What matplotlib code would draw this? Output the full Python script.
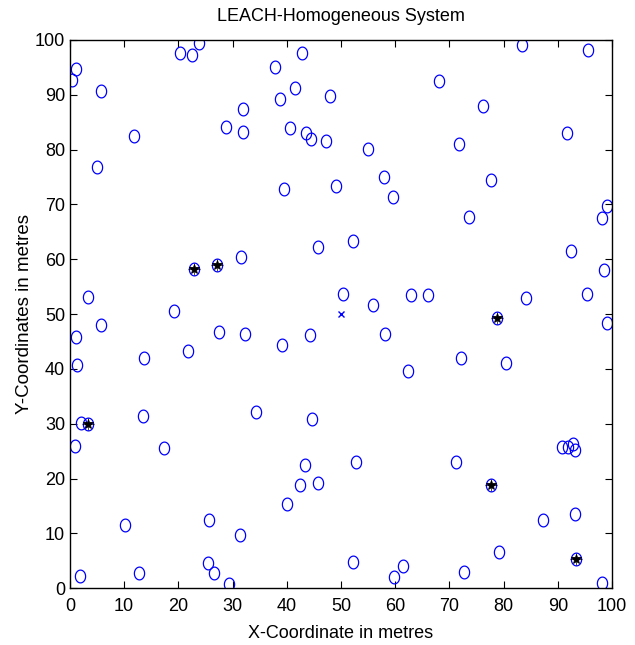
import numpy as np
import matplotlib
matplotlib.use('Agg')
import matplotlib.pyplot as plt
from matplotlib.path import Path

plt.rcParams['font.family'] = ['Liberation Sans', 'DejaVu Sans']

# node positions
node_x = [1.1, 0.4, 5.7, 11.9, 5.0, 20.4, 22.5, 23.9, 28.8, 31.9, 32.0, 37.8, 42.9, 41.5,
          38.7, 40.6, 43.5, 44.5, 47.2, 47.9, 39.4, 49.0, 83.4, 95.6, 68.1, 76.1, 91.7,
          71.7, 55.0, 58.0, 59.6, 77.7, 73.6, 99.0, 98.1, 22.9, 27.1, 31.6, 45.8, 3.4,
          5.7, 1.1, 1.3, 13.7, 19.2, 21.8, 27.5, 32.3, 39.2, 44.2, 50.4, 52.2, 92.4,
          98.5, 95.3, 84.1, 63.0, 66.0, 55.9, 78.8, 99.0, 58.2, 72.2, 80.5, 62.4, 2.0,
          3.4, 0.9, 13.5, 17.4, 34.4, 44.6, 43.3, 42.4, 45.8, 40.1, 10.1, 25.6, 31.4,
          25.4, 26.6, 29.3, 12.8, 1.8, 52.7, 71.2, 77.7, 90.8, 91.9, 92.7, 93.2, 93.1,
          87.3, 79.2, 93.4, 52.2, 61.4, 59.8, 72.6, 98.2]
node_y = [94.7, 92.7, 90.7, 82.4, 76.9, 97.6, 97.3, 99.4, 84.2, 87.4, 83.3, 95.0, 97.7, 91.2,
          89.2, 83.9, 83.1, 81.9, 81.6, 89.8, 72.8, 73.4, 99.1, 98.2, 92.6, 88.0, 83.0,
          81.0, 80.1, 75.1, 71.3, 74.5, 67.8, 69.8, 67.6, 58.2, 59.0, 60.5, 62.3, 53.1,
          48.1, 45.8, 40.8, 42.0, 50.5, 43.2, 46.7, 46.4, 44.3, 46.1, 53.7, 63.4, 61.6,
          58.1, 53.7, 52.9, 53.4, 53.4, 51.6, 49.3, 48.4, 46.4, 42.0, 41.1, 39.7, 30.2,
          30.0, 25.9, 31.4, 25.6, 32.2, 30.8, 22.4, 18.9, 19.2, 15.3, 11.6, 12.4, 9.8,
          4.6, 2.8, 0.8, 2.8, 2.2, 23.0, 23.0, 18.9, 25.7, 25.7, 26.3, 25.2, 13.6,
          12.5, 6.6, 5.3, 4.8, 4.0, 2.0, 3.0, 1.0]

# cluster heads
ch_x = [22.9, 27.1, 78.8, 3.4, 77.7, 93.4]
ch_y = [58.2, 59.0, 49.3, 30.0, 18.9, 5.3]

sink_x = [50]
sink_y = [50]

# slightly tall ellipse, like the matlab circles
t = np.linspace(0, 2 * np.pi, 60)
ell = Path(np.column_stack([0.8 * np.cos(t), np.sin(t)]), closed=True)

fig = plt.figure(figsize=(6.35, 6.45), dpi=100)
ax = fig.add_axes([0.110, 0.088, 0.854, 0.850])

ax.plot(node_x, node_y, ls='none', marker=ell, color='blue', mfc='none', ms=9.2, mew=0.9)
ax.plot(ch_x, ch_y, '*', color='black', ms=7, mew=0.6)
ax.plot(ch_x, ch_y, '+', color='black', ms=9, mew=0.5)
ax.plot(sink_x, sink_y, 'x', color='blue', ms=4, mew=1.0)

ax.set_xlim(0, 100)
ax.set_ylim(0, 100)
ax.set_xticks(np.arange(0, 101, 10))
ax.set_yticks(np.arange(0, 101, 10))
ax.tick_params(direction='in', top=True, right=True, length=5, labelsize=13)
ax.tick_params(axis='x', pad=7)
for s in ax.spines.values():
    s.set_linewidth(1.0)

ax.set_title('LEACH-Homogeneous System', fontsize=13, pad=14)
ax.set_xlabel('X-Coordinate in metres', fontsize=13, labelpad=7)
ax.set_ylabel('Y-Coordinates in metres', fontsize=13.5, labelpad=1)

fig.savefig('out.png', dpi=100)
